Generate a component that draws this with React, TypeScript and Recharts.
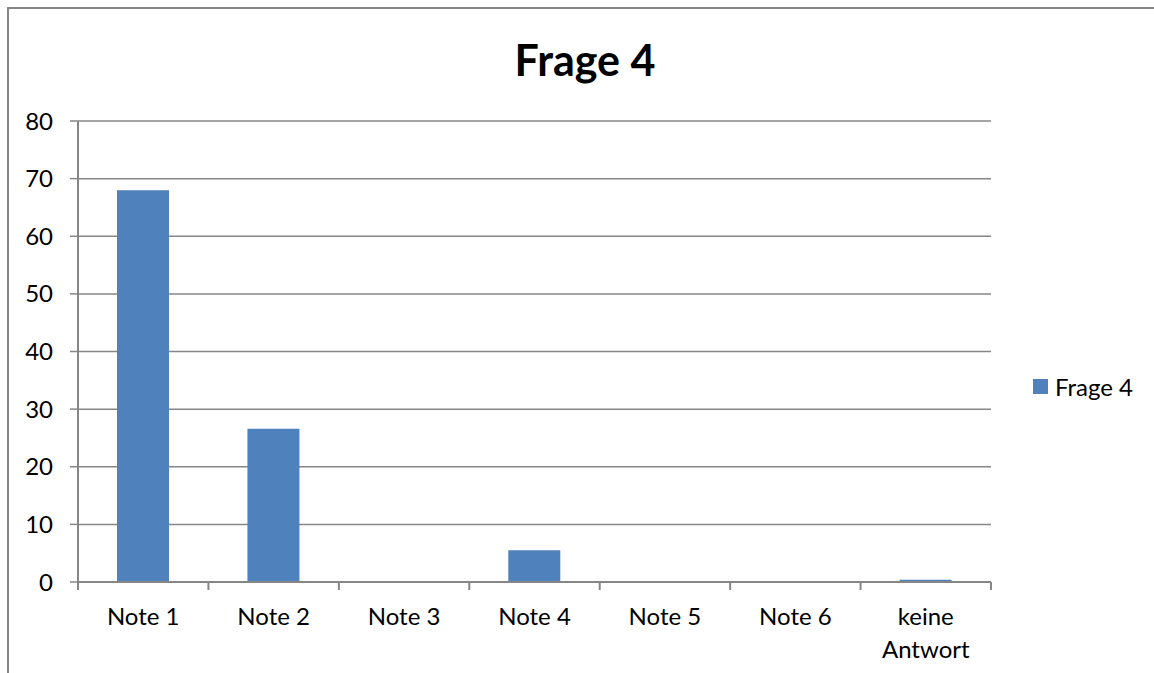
import { BarChart, Bar, XAxis, YAxis, CartesianGrid } from "recharts";

const categories = ["Note 1", "Note 2", "Note 3", "Note 4", "Note 5", "Note 6", "keine Antwort"];
const frage4 = [68, 26.6, 0, 5.5, 0, 0, 0.4];
const yTicks = [0, 10, 20, 30, 40, 50, 60, 70, 80];
const seriesName = "Frage 4";

const data = categories.map((c, i) => ({ name: c, value: frage4[i] }));

const FONT = "Lato, 'Open Sans', sans-serif";
const GRAY = "#868686";
const BLUE = "#4F81BD";

// category tick: label below, tick marks at the category boundaries (Excel style)
function CatTick(props: any) {
  const { x, y, payload, index, visibleTicksCount } = props;
  const half = payload.offset ?? 0;
  const axisY = y - 25;
  const label = String(payload.value);
  // long labels wrap onto two lines like in Excel
  const lines = label.length > 8 ? label.split(" ") : [label];
  return (
    <g>
      <line x1={x - half} x2={x - half} y1={axisY} y2={axisY + 8} stroke={GRAY} strokeWidth={2} />
      {index === visibleTicksCount - 1 && (
        <line x1={x + half} x2={x + half} y1={axisY} y2={axisY + 8} stroke={GRAY} strokeWidth={2} />
      )}
      <text x={x} y={y + 18} textAnchor="middle" fill="#000" fontSize={24} fontFamily={FONT}>
        {lines.map((l, i) => (
          <tspan key={i} x={x} dy={i === 0 ? 0 : 33}>
            {l}
          </tspan>
        ))}
      </text>
    </g>
  );
}

export default function App() {
  return (
    <div style={{ position: "fixed", left: 0, top: 0, width: 1154, height: 673, overflow: "hidden", background: "#fff" }}>
      <div
        style={{
          position: "absolute",
          left: 7,
          top: 7,
          width: 1200,
          height: 720,
          border: `2px solid ${GRAY}`,
        }}
      />
      <div
        style={{
          position: "absolute",
          left: 0,
          width: 1170,
          top: 39,
          textAlign: "center",
          fontFamily: FONT,
          fontWeight: 700,
          fontSize: 43,
          lineHeight: "42px",
          color: "#000",
        }}
      >
        {seriesName}
      </div>
      <div style={{ position: "absolute", left: 0, top: 0 }}>
        <BarChart
          width={1154}
          height={673}
          data={data}
          margin={{ top: 121, right: 163, left: 0, bottom: 0 }}
          barSize={52}
        >
          <CartesianGrid vertical={false} stroke={GRAY} strokeWidth={1.5} />
          <XAxis
            dataKey="name"
            axisLine={{ stroke: GRAY, strokeWidth: 2 }}
            tickLine={false}
            tickSize={0}
            tickMargin={25}
            height={91}
            interval={0}
            tick={<CatTick />}
          />
          <YAxis
            width={78}
            domain={[0, 80]}
            ticks={yTicks}
            interval={0}
            axisLine={{ stroke: GRAY, strokeWidth: 2 }}
            tickLine={{ stroke: GRAY, strokeWidth: 1.5 }}
            tickSize={8}
            tickMargin={17}
            tick={{ fill: "#000", fontSize: 24, fontFamily: FONT }}
          />
          <Bar dataKey="value" name={seriesName} fill={BLUE} isAnimationActive={false} />
        </BarChart>
      </div>
      <div
        style={{
          position: "absolute",
          left: 1033,
          top: 370,
          height: 32,
          display: "flex",
          alignItems: "center",
          fontFamily: FONT,
          fontSize: 24,
          color: "#000",
        }}
      >
        <span style={{ width: 15, height: 15, background: BLUE, display: "inline-block", marginRight: 7 }} />
        <span>{seriesName}</span>
      </div>
    </div>
  );
}
